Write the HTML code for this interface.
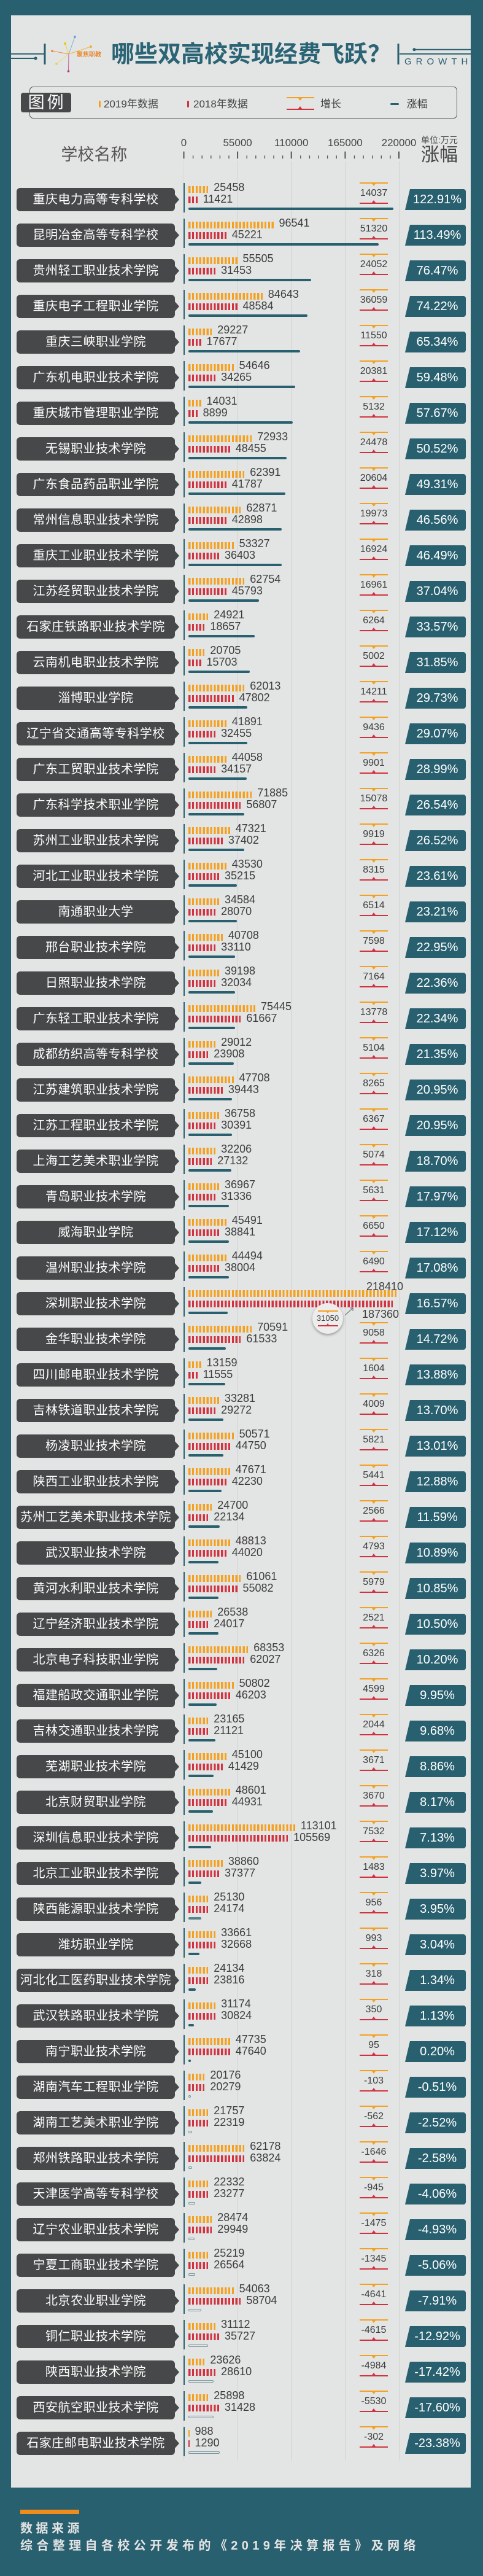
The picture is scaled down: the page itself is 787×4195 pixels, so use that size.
<!DOCTYPE html>
<html lang="zh">
<head>
<meta charset="utf-8">
<style>
*{margin:0;padding:0;box-sizing:border-box}
html,body{width:787px;height:4195px;overflow:hidden}
body{position:relative;background:#29606f;font-family:"Liberation Sans","Noto Sans CJK SC",sans-serif}
.panel{position:absolute;left:18px;top:25px;width:749px;height:4026px;background:#e3e4e4}
.abs{position:absolute;white-space:nowrap}
.grid{position:absolute;top:262px;width:1px;height:3745px;background:#d1d2d2}
.r{position:absolute;left:0;width:787px;height:40px}
.r::before{content:"";position:absolute;left:298.5px;top:-8px;width:2.2px;height:48px;background:#29606f}
.n{position:absolute;left:27px;top:0;width:258px;height:38px;background:#474849;border-radius:6px;color:#fff;font-size:20px;line-height:38px;text-align:center;letter-spacing:.5px;white-space:nowrap;font-family:"Liberation Sans","Noto Sans CJK SC",sans-serif}
.n::after{content:"";position:absolute;left:257px;top:10px;border-left:8px solid #474849;border-top:9px solid transparent;border-bottom:9px solid transparent}
.o,.d{position:absolute;left:306.5px;height:18px;display:flex;align-items:center;font-size:18px;line-height:18px;color:#3d3d3d;white-space:nowrap;font-family:"Liberation Sans",sans-serif}
.o{top:-10px}
.d{top:9px}
.o b,.d b{display:block;position:relative;height:10.6px;width:calc(var(--n) * 5.9px - 2.6px);margin-right:9px;flex:none}
.o b{top:3.6px;background:repeating-linear-gradient(90deg,#f5a01e 0,#f5a01e 3.3px,transparent 3.3px,transparent 5.9px)}
.d b{top:1.6px;background:repeating-linear-gradient(90deg,#d2323f 0,#d2323f 3.3px,transparent 3.3px,transparent 5.9px)}
.t{position:absolute;left:306.5px;top:32px;height:4px;border-radius:2px;background:#29606f;display:block}
.t.u{background:transparent;border:1px solid #7d979d}
.g{position:absolute;left:586px;top:-9px;width:46px;height:35px;border-top:2px solid #f5a01e;border-bottom:2px solid #d2323f;text-align:center;font-size:16px;line-height:31px;color:#3d3d3d;font-family:"Liberation Sans",sans-serif}
.g::before{content:"";position:absolute;left:19.5px;top:0;border-top:4px solid #f5a01e;border-left:3.5px solid transparent;border-right:3.5px solid transparent}
.g::after{content:"";position:absolute;left:19.5px;bottom:0;border-bottom:4px solid #d2323f;border-left:3.5px solid transparent;border-right:3.5px solid transparent}
.p{position:absolute;left:660px;top:2px;width:99px;height:34px;background:#29606f;clip-path:polygon(8px 0,100% 0,100% 100%,0 100%);border-radius:0 4px 4px 0;color:#fff;font-size:20px;line-height:34px;text-align:center;padding-left:6px;font-family:"Liberation Sans",sans-serif}
.lab{position:absolute;font-size:18px;line-height:18px;color:#3d3d3d;font-family:"Liberation Sans",sans-serif;white-space:nowrap}
.tk{position:absolute;top:224px;width:80px;text-align:center;font-size:17px;line-height:18px;color:#444;font-family:"Liberation Sans",sans-serif}
</style>
</head>
<body>
<div class="panel"></div>

<svg class="abs" style="left:0;top:0" width="787" height="270" xmlns="http://www.w3.org/2000/svg">
  <g fill="#29606f" stroke="#29606f">
    <line x1="18" y1="87.7" x2="72" y2="87.7" stroke-width="2"/>
    <line x1="18" y1="95" x2="57" y2="95" stroke-width="2"/>
    <circle cx="58" cy="95" r="2.6" stroke="none"/>
    <rect x="71.5" y="71" width="3" height="34" stroke="none"/>
    <rect x="647.5" y="71" width="3" height="34" stroke="none"/>
    <line x1="675" y1="80.7" x2="767" y2="80.7" stroke-width="2"/>
    <circle cx="675" cy="80.7" r="2.6" stroke="none"/>
    <line x1="651" y1="87.7" x2="767" y2="87.7" stroke-width="2"/>
  </g>
  <g stroke-width="1">
    <line x1="112" y1="88" x2="122" y2="60" stroke="#7fb0d8"/>
    <line x1="112" y1="88" x2="106" y2="71" stroke="#e8d24a"/>
    <line x1="112" y1="88" x2="148" y2="76" stroke="#f0b53a"/>
    <line x1="112" y1="88" x2="85" y2="83" stroke="#f0903a"/>
    <line x1="112" y1="88" x2="92" y2="104" stroke="#eadb70"/>
    <line x1="112" y1="88" x2="111.5" y2="116" stroke="#c05a90"/>
  </g>
  <circle cx="122" cy="60" r="1.8" fill="#5a9ad0"/>
  <circle cx="106" cy="71" r="2.2" fill="#e8cc20"/>
  <circle cx="148" cy="76" r="2" fill="#f0b030"/>
  <circle cx="85" cy="83" r="1.8" fill="#f08030"/>
  <circle cx="92" cy="104" r="1.8" fill="#e8d050"/>
  <circle cx="111.5" cy="116" r="1.8" fill="#b03a78"/>
  <text x="125" y="92" font-size="10" font-weight="bold" fill="#e88a2e" font-family="Liberation Sans, Noto Sans CJK SC, sans-serif">聚焦职教</text>
  <text x="659" y="105" font-size="15" letter-spacing="7" fill="#29606f" font-family="Liberation Sans, sans-serif">GROWTH</text>
  <g fill="#555">
    <rect x="298.5" y="246.7" width="2" height="11.6"/>
    <rect x="386.1" y="246.7" width="2" height="11.6"/>
    <rect x="473.7" y="246.7" width="2" height="11.6"/>
    <rect x="561.4" y="246.7" width="2" height="11.6"/>
    <rect x="649" y="246.7" width="2" height="11.6"/>
    <rect x="313.9" y="253.3" width="1.4" height="5"/><rect x="328.5" y="253.3" width="1.4" height="5"/><rect x="343.1" y="253.3" width="1.4" height="5"/><rect x="357.7" y="253.3" width="1.4" height="5"/><rect x="372.3" y="253.3" width="1.4" height="5"/>
    <rect x="401.5" y="253.3" width="1.4" height="5"/><rect x="416.1" y="253.3" width="1.4" height="5"/><rect x="430.7" y="253.3" width="1.4" height="5"/><rect x="445.3" y="253.3" width="1.4" height="5"/><rect x="459.9" y="253.3" width="1.4" height="5"/>
    <rect x="489.1" y="253.3" width="1.4" height="5"/><rect x="503.7" y="253.3" width="1.4" height="5"/><rect x="518.3" y="253.3" width="1.4" height="5"/><rect x="532.9" y="253.3" width="1.4" height="5"/><rect x="547.5" y="253.3" width="1.4" height="5"/>
    <rect x="576.8" y="253.3" width="1.4" height="5"/><rect x="591.4" y="253.3" width="1.4" height="5"/><rect x="606" y="253.3" width="1.4" height="5"/><rect x="620.6" y="253.3" width="1.4" height="5"/><rect x="635.2" y="253.3" width="1.4" height="5"/>
  </g>
</svg>

<div class="abs" style="left:181px;top:70px;font-size:38px;line-height:38px;font-weight:bold;color:#2b6474;font-family:'Liberation Sans','Noto Sans CJK SC',sans-serif">哪些双高校实现经费飞跃？</div>

<!-- legend -->
<div class="abs" style="left:47.7px;top:140.7px;width:697px;height:52px;border:1.5px solid #58595a;border-radius:6px"></div>
<div class="abs" style="left:33.6px;top:151px;width:82px;height:32px;background:#474849;border-radius:4px;color:#fff;font-size:27px;line-height:32px;text-align:center;letter-spacing:4px;padding-left:4px">图例</div>
<div class="abs" style="left:160.5px;top:163.5px;width:3px;height:11px;background:#f5a01e;border-radius:1.5px"></div>
<div class="abs" style="left:169px;top:160.8px;font-size:17px;line-height:17px;color:#444">2019年数据</div>
<div class="abs" style="left:305px;top:163.5px;width:3px;height:11px;background:#d2323f;border-radius:1.5px"></div>
<div class="abs" style="left:315px;top:160.8px;font-size:17px;line-height:17px;color:#444">2018年数据</div>
<div class="abs" style="left:467px;top:158px;width:45px;height:2px;background:#f5a01e"></div>
<div class="abs" style="left:486px;top:160px;border-top:4px solid #f5a01e;border-left:3.5px solid transparent;border-right:3.5px solid transparent"></div>
<div class="abs" style="left:467px;top:177.3px;width:45px;height:2px;background:#d2323f"></div>
<div class="abs" style="left:486px;top:173.3px;border-bottom:4px solid #d2323f;border-left:3.5px solid transparent;border-right:3.5px solid transparent"></div>
<div class="abs" style="left:522px;top:160.8px;font-size:17px;line-height:17px;color:#444">增长</div>
<div class="abs" style="left:636px;top:167.5px;width:14px;height:3px;background:#29606f;border-radius:1.5px"></div>
<div class="abs" style="left:662.7px;top:160.8px;font-size:17px;line-height:17px;color:#444">涨幅</div>

<!-- axis header -->
<div class="abs" style="left:99.4px;top:239px;font-size:27px;line-height:27px;color:#555">学校名称</div>
<div class="tk" style="left:259.5px">0</div>
<div class="tk" style="left:347.1px">55000</div>
<div class="tk" style="left:434.7px">110000</div>
<div class="tk" style="left:522.4px">165000</div>
<div class="tk" style="left:610px">220000</div>
<div class="abs" style="left:686px;top:221px;font-size:14px;line-height:14px;color:#444">单位:万元</div>
<div class="abs" style="left:686px;top:238.3px;font-size:30px;line-height:30px;color:#444">涨幅</div>

<div class="grid" style="left:299px;background:#d7d8d8"></div>
<div class="grid" style="left:386.6px"></div>
<div class="grid" style="left:474.2px"></div>
<div class="grid" style="left:561.9px"></div>
<div class="grid" style="left:649.5px"></div>

<!-- rows -->
<div class="r" style="top:306px"><div class="n">重庆电力高等专科学校</div><div class="o"><b style="--n:6"></b>25458</div><div class="d"><b style="--n:3"></b>11421</div><i class="t" style="width:334px"></i><div class="g">14037</div><div class="p">122.91%</div></div>
<div class="r" style="top:364px"><div class="n">昆明冶金高等专科学校</div><div class="o"><b style="--n:24"></b>96541</div><div class="d"><b style="--n:11"></b>45221</div><i class="t" style="width:310px"></i><div class="g">51320</div><div class="p">113.49%</div></div>
<div class="r" style="top:422px"><div class="n">贵州轻工职业技术学院</div><div class="o"><b style="--n:14"></b>55505</div><div class="d"><b style="--n:8"></b>31453</div><i class="t" style="width:200.5px"></i><div class="g">24052</div><div class="p">76.47%</div></div>
<div class="r" style="top:480px"><div class="n">重庆电子工程职业学院</div><div class="o"><b style="--n:21"></b>84643</div><div class="d"><b style="--n:14"></b>48584</div><i class="t" style="width:194px"></i><div class="g">36059</div><div class="p">74.22%</div></div>
<div class="r" style="top:538px"><div class="n">重庆三峡职业学院</div><div class="o"><b style="--n:7"></b>29227</div><div class="d"><b style="--n:4"></b>17677</div><i class="t" style="width:182px"></i><div class="g">11550</div><div class="p">65.34%</div></div>
<div class="r" style="top:596px"><div class="n">广东机电职业技术学院</div><div class="o"><b style="--n:13"></b>54646</div><div class="d"><b style="--n:8"></b>34265</div><i class="t" style="width:174.5px"></i><div class="g">20381</div><div class="p">59.48%</div></div>
<div class="r" style="top:654px"><div class="n">重庆城市管理职业学院</div><div class="o"><b style="--n:4"></b>14031</div><div class="d"><b style="--n:3"></b>8899</div><i class="t" style="width:170.5px"></i><div class="g">5132</div><div class="p">57.67%</div></div>
<div class="r" style="top:712px"><div class="n">无锡职业技术学院</div><div class="o"><b style="--n:18"></b>72933</div><div class="d"><b style="--n:12"></b>48455</div><i class="t" style="width:160.5px"></i><div class="g">24478</div><div class="p">50.52%</div></div>
<div class="r" style="top:770px"><div class="n">广东食品药品职业学院</div><div class="o"><b style="--n:16"></b>62391</div><div class="d"><b style="--n:11"></b>41787</div><i class="t" style="width:158px"></i><div class="g">20604</div><div class="p">49.31%</div></div>
<div class="r" style="top:828px"><div class="n">常州信息职业技术学院</div><div class="o"><b style="--n:15"></b>62871</div><div class="d"><b style="--n:11"></b>42898</div><i class="t" style="width:152px"></i><div class="g">19973</div><div class="p">46.56%</div></div>
<div class="r" style="top:886px"><div class="n">重庆工业职业技术学院</div><div class="o"><b style="--n:13"></b>53327</div><div class="d"><b style="--n:9"></b>36403</div><i class="t" style="width:152px"></i><div class="g">16924</div><div class="p">46.49%</div></div>
<div class="r" style="top:944px"><div class="n">江苏经贸职业技术学院</div><div class="o"><b style="--n:16"></b>62754</div><div class="d"><b style="--n:11"></b>45793</div><i class="t" style="width:115px"></i><div class="g">16961</div><div class="p">37.04%</div></div>
<div class="r" style="top:1002px"><div class="n">石家庄铁路职业技术学院</div><div class="o"><b style="--n:6"></b>24921</div><div class="d"><b style="--n:5"></b>18657</div><i class="t" style="width:108px"></i><div class="g">6264</div><div class="p">33.57%</div></div>
<div class="r" style="top:1060px"><div class="n">云南机电职业技术学院</div><div class="o"><b style="--n:5"></b>20705</div><div class="d"><b style="--n:4"></b>15703</div><i class="t" style="width:100px"></i><div class="g">5002</div><div class="p">31.85%</div></div>
<div class="r" style="top:1118px"><div class="n">淄博职业学院</div><div class="o"><b style="--n:16"></b>62013</div><div class="d"><b style="--n:13"></b>47802</div><i class="t" style="width:96.5px"></i><div class="g">14211</div><div class="p">29.73%</div></div>
<div class="r" style="top:1176px"><div class="n">辽宁省交通高等专科学校</div><div class="o"><b style="--n:11"></b>41891</div><div class="d"><b style="--n:8"></b>32455</div><i class="t" style="width:96.5px"></i><div class="g">9436</div><div class="p">29.07%</div></div>
<div class="r" style="top:1234px"><div class="n">广东工贸职业技术学院</div><div class="o"><b style="--n:11"></b>44058</div><div class="d"><b style="--n:8"></b>34157</div><i class="t" style="width:95px"></i><div class="g">9901</div><div class="p">28.99%</div></div>
<div class="r" style="top:1292px"><div class="n">广东科学技术职业学院</div><div class="o"><b style="--n:18"></b>71885</div><div class="d"><b style="--n:15"></b>56807</div><i class="t" style="width:91px"></i><div class="g">15078</div><div class="p">26.54%</div></div>
<div class="r" style="top:1350px"><div class="n">苏州工业职业技术学院</div><div class="o"><b style="--n:12"></b>47321</div><div class="d"><b style="--n:10"></b>37402</div><i class="t" style="width:91px"></i><div class="g">9919</div><div class="p">26.52%</div></div>
<div class="r" style="top:1408px"><div class="n">河北工业职业技术学院</div><div class="o"><b style="--n:11"></b>43530</div><div class="d"><b style="--n:9"></b>35215</div><i class="t" style="width:79px"></i><div class="g">8315</div><div class="p">23.61%</div></div>
<div class="r" style="top:1466px"><div class="n">南通职业大学</div><div class="o"><b style="--n:9"></b>34584</div><div class="d"><b style="--n:8"></b>28070</div><i class="t" style="width:79px"></i><div class="g">6514</div><div class="p">23.21%</div></div>
<div class="r" style="top:1524px"><div class="n">邢台职业技术学院</div><div class="o"><b style="--n:10"></b>40708</div><div class="d"><b style="--n:8"></b>33110</div><i class="t" style="width:76px"></i><div class="g">7598</div><div class="p">22.95%</div></div>
<div class="r" style="top:1582px"><div class="n">日照职业技术学院</div><div class="o"><b style="--n:9"></b>39198</div><div class="d"><b style="--n:8"></b>32034</div><i class="t" style="width:76px"></i><div class="g">7164</div><div class="p">22.36%</div></div>
<div class="r" style="top:1640px"><div class="n">广东轻工职业技术学院</div><div class="o"><b style="--n:19"></b>75445</div><div class="d"><b style="--n:15"></b>61667</div><i class="t" style="width:76px"></i><div class="g">13778</div><div class="p">22.34%</div></div>
<div class="r" style="top:1698px"><div class="n">成都纺织高等专科学校</div><div class="o"><b style="--n:8"></b>29012</div><div class="d"><b style="--n:6"></b>23908</div><i class="t" style="width:74px"></i><div class="g">5104</div><div class="p">21.35%</div></div>
<div class="r" style="top:1756px"><div class="n">江苏建筑职业技术学院</div><div class="o"><b style="--n:13"></b>47708</div><div class="d"><b style="--n:10"></b>39443</div><i class="t" style="width:71.5px"></i><div class="g">8265</div><div class="p">20.95%</div></div>
<div class="r" style="top:1814px"><div class="n">江苏工程职业技术学院</div><div class="o"><b style="--n:9"></b>36758</div><div class="d"><b style="--n:8"></b>30391</div><i class="t" style="width:71.5px"></i><div class="g">6367</div><div class="p">20.95%</div></div>
<div class="r" style="top:1872px"><div class="n">上海工艺美术职业学院</div><div class="o"><b style="--n:8"></b>32206</div><div class="d"><b style="--n:7"></b>27132</div><i class="t" style="width:70px"></i><div class="g">5074</div><div class="p">18.70%</div></div>
<div class="r" style="top:1930px"><div class="n">青岛职业技术学院</div><div class="o"><b style="--n:9"></b>36967</div><div class="d"><b style="--n:8"></b>31336</div><i class="t" style="width:66px"></i><div class="g">5631</div><div class="p">17.97%</div></div>
<div class="r" style="top:1988px"><div class="n">威海职业学院</div><div class="o"><b style="--n:11"></b>45491</div><div class="d"><b style="--n:9"></b>38841</div><i class="t" style="width:66px"></i><div class="g">6650</div><div class="p">17.12%</div></div>
<div class="r" style="top:2046px"><div class="n">温州职业技术学院</div><div class="o"><b style="--n:11"></b>44494</div><div class="d"><b style="--n:9"></b>38004</div><i class="t" style="width:66px"></i><div class="g">6490</div><div class="p">17.08%</div></div>
<div class="r" style="top:2104px"><div class="n">深圳职业技术学院</div><div class="o"><b style="--n:58"></b></div><div class="d"><b style="--n:57"></b></div>
  <span class="lab" style="left:597px;top:-18px">218410</span>
  <span class="lab" style="left:590px;top:27px">187360</span>
  <i class="t" style="width:64px"></i>
  <div class="p">16.57%</div>
  <div style="position:absolute;left:509px;top:18px;width:50px;height:50px;border-radius:50%;background:#ededed;box-shadow:0 2px 4px rgba(0,0,0,.35);z-index:3">
    <div style="position:absolute;left:9px;top:12px;width:33px;height:2px;background:#f5a01e"></div>
    <div style="position:absolute;left:23px;top:14px;border-top:3px solid #f5a01e;border-left:2.5px solid transparent;border-right:2.5px solid transparent"></div>
    <div style="position:absolute;left:0;top:18px;width:50px;text-align:center;font-size:13px;line-height:14px;color:#3d3d3d;font-family:'Liberation Sans',sans-serif">31050</div>
    <div style="position:absolute;left:23px;top:33px;border-bottom:3px solid #d2323f;border-left:2.5px solid transparent;border-right:2.5px solid transparent"></div>
    <div style="position:absolute;left:9px;top:36px;width:33px;height:2px;background:#d2323f"></div>
  </div>
  <svg style="position:absolute;left:558px;top:22px" width="22" height="20"><line x1="4" y1="16" x2="17" y2="4" stroke="#666" stroke-width="1"/><polyline points="12,4 17,4 17,9" fill="none" stroke="#666" stroke-width="1"/></svg>
</div>
<div class="r" style="top:2162px"><div class="n">金华职业技术学院</div><div class="o"><b style="--n:18"></b>70591</div><div class="d"><b style="--n:15"></b>61533</div><i class="t" style="width:61.5px"></i><div class="g">9058</div><div class="p">14.72%</div></div>
<div class="r" style="top:2220px"><div class="n">四川邮电职业技术学院</div><div class="o"><b style="--n:4"></b>13159</div><div class="d"><b style="--n:3"></b>11555</div><i class="t" style="width:60px"></i><div class="g">1604</div><div class="p">13.88%</div></div>
<div class="r" style="top:2278px"><div class="n">吉林铁道职业技术学院</div><div class="o"><b style="--n:9"></b>33281</div><div class="d"><b style="--n:8"></b>29272</div><i class="t" style="width:57.5px"></i><div class="g">4009</div><div class="p">13.70%</div></div>
<div class="r" style="top:2336px"><div class="n">杨凌职业技术学院</div><div class="o"><b style="--n:13"></b>50571</div><div class="d"><b style="--n:12"></b>44750</div><i class="t" style="width:57.5px"></i><div class="g">5821</div><div class="p">13.01%</div></div>
<div class="r" style="top:2394px"><div class="n">陕西工业职业技术学院</div><div class="o"><b style="--n:12"></b>47671</div><div class="d"><b style="--n:11"></b>42230</div><i class="t" style="width:54px"></i><div class="g">5441</div><div class="p">12.88%</div></div>
<div class="r" style="top:2452px"><div class="n">苏州工艺美术职业技术学院</div><div class="o"><b style="--n:7"></b>24700</div><div class="d"><b style="--n:6"></b>22134</div><i class="t" style="width:51.5px"></i><div class="g">2566</div><div class="p">11.59%</div></div>
<div class="r" style="top:2510px"><div class="n">武汉职业技术学院</div><div class="o"><b style="--n:12"></b>48813</div><div class="d"><b style="--n:11"></b>44020</div><i class="t" style="width:49px"></i><div class="g">4793</div><div class="p">10.89%</div></div>
<div class="r" style="top:2568px"><div class="n">黄河水利职业技术学院</div><div class="o"><b style="--n:15"></b>61061</div><div class="d"><b style="--n:14"></b>55082</div><i class="t" style="width:49px"></i><div class="g">5979</div><div class="p">10.85%</div></div>
<div class="r" style="top:2626px"><div class="n">辽宁经济职业技术学院</div><div class="o"><b style="--n:7"></b>26538</div><div class="d"><b style="--n:6"></b>24017</div><i class="t" style="width:49px"></i><div class="g">2521</div><div class="p">10.50%</div></div>
<div class="r" style="top:2684px"><div class="n">北京电子科技职业学院</div><div class="o"><b style="--n:17"></b>68353</div><div class="d"><b style="--n:16"></b>62027</div><i class="t" style="width:47.5px"></i><div class="g">6326</div><div class="p">10.20%</div></div>
<div class="r" style="top:2742px"><div class="n">福建船政交通职业学院</div><div class="o"><b style="--n:13"></b>50802</div><div class="d"><b style="--n:12"></b>46203</div><i class="t" style="width:46px"></i><div class="g">4599</div><div class="p">9.95%</div></div>
<div class="r" style="top:2800px"><div class="n">吉林交通职业技术学院</div><div class="o"><b style="--n:6"></b>23165</div><div class="d"><b style="--n:6"></b>21121</div><i class="t" style="width:44px"></i><div class="g">2044</div><div class="p">9.68%</div></div>
<div class="r" style="top:2858px"><div class="n">芜湖职业技术学院</div><div class="o"><b style="--n:11"></b>45100</div><div class="d"><b style="--n:10"></b>41429</div><i class="t" style="width:41.5px"></i><div class="g">3671</div><div class="p">8.86%</div></div>
<div class="r" style="top:2916px"><div class="n">北京财贸职业学院</div><div class="o"><b style="--n:12"></b>48601</div><div class="d"><b style="--n:11"></b>44931</div><i class="t" style="width:40px"></i><div class="g">3670</div><div class="p">8.17%</div></div>
<div class="r" style="top:2974px"><div class="n">深圳信息职业技术学院</div><div class="o"><b style="--n:30"></b>113101</div><div class="d"><b style="--n:28"></b>105569</div><i class="t" style="width:37.5px"></i><div class="g">7532</div><div class="p">7.13%</div></div>
<div class="r" style="top:3032px"><div class="n">北京工业职业技术学院</div><div class="o"><b style="--n:10"></b>38860</div><div class="d"><b style="--n:9"></b>37377</div><i class="t" style="width:21px"></i><div class="g">1483</div><div class="p">3.97%</div></div>
<div class="r" style="top:3090px"><div class="n">陕西能源职业技术学院</div><div class="o"><b style="--n:6"></b>25130</div><div class="d"><b style="--n:6"></b>24174</div><i class="t" style="width:21px;opacity:.75"></i><div class="g">956</div><div class="p">3.95%</div></div>
<div class="r" style="top:3148px"><div class="n">潍坊职业学院</div><div class="o"><b style="--n:8"></b>33661</div><div class="d"><b style="--n:8"></b>32668</div><i class="t" style="width:18px"></i><div class="g">993</div><div class="p">3.04%</div></div>
<div class="r" style="top:3206px"><div class="n">河北化工医药职业技术学院</div><div class="o"><b style="--n:6"></b>24134</div><div class="d"><b style="--n:6"></b>23816</div><i class="t" style="width:12px"></i><div class="g">318</div><div class="p">1.34%</div></div>
<div class="r" style="top:3264px"><div class="n">武汉铁路职业技术学院</div><div class="o"><b style="--n:8"></b>31174</div><div class="d"><b style="--n:8"></b>30824</div><i class="t" style="width:9px"></i><div class="g">350</div><div class="p">1.13%</div></div>
<div class="r" style="top:3322px"><div class="n">南宁职业技术学院</div><div class="o"><b style="--n:12"></b>47735</div><div class="d"><b style="--n:12"></b>47640</div><i class="t" style="width:4px"></i><div class="g">95</div><div class="p">0.20%</div></div>
<div class="r" style="top:3380px"><div class="n">湖南汽车工程职业学院</div><div class="o"><b style="--n:5"></b>20176</div><div class="d"><b style="--n:5"></b>20279</div><i class="t u" style="width:4px"></i><div class="g">-103</div><div class="p">-0.51%</div></div>
<div class="r" style="top:3438px"><div class="n">湖南工艺美术职业学院</div><div class="o"><b style="--n:6"></b>21757</div><div class="d"><b style="--n:6"></b>22319</div><i class="t u" style="width:6px"></i><div class="g">-562</div><div class="p">-2.52%</div></div>
<div class="r" style="top:3496px"><div class="n">郑州铁路职业技术学院</div><div class="o"><b style="--n:16"></b>62178</div><div class="d"><b style="--n:16"></b>63824</div><i class="t u" style="width:6px"></i><div class="g">-1646</div><div class="p">-2.58%</div></div>
<div class="r" style="top:3554px"><div class="n">天津医学高等专科学校</div><div class="o"><b style="--n:6"></b>22332</div><div class="d"><b style="--n:6"></b>23277</div><i class="t u" style="width:11px"></i><div class="g">-945</div><div class="p">-4.06%</div></div>
<div class="r" style="top:3612px"><div class="n">辽宁农业职业技术学院</div><div class="o"><b style="--n:7"></b>28474</div><div class="d"><b style="--n:7"></b>29949</div><i class="t u" style="width:10.5px"></i><div class="g">-1475</div><div class="p">-4.93%</div></div>
<div class="r" style="top:3670px"><div class="n">宁夏工商职业技术学院</div><div class="o"><b style="--n:6"></b>25219</div><div class="d"><b style="--n:6"></b>26564</div><i class="t u" style="width:11px"></i><div class="g">-1345</div><div class="p">-5.06%</div></div>
<div class="r" style="top:3728px"><div class="n">北京农业职业学院</div><div class="o"><b style="--n:13"></b>54063</div><div class="d"><b style="--n:15"></b>58704</div><i class="t u" style="width:21px"></i><div class="g">-4641</div><div class="p">-7.91%</div></div>
<div class="r" style="top:3786px"><div class="n">铜仁职业技术学院</div><div class="o"><b style="--n:8"></b>31112</div><div class="d"><b style="--n:9"></b>35727</div><i class="t u" style="width:32.5px"></i><div class="g">-4615</div><div class="p">-12.92%</div></div>
<div class="r" style="top:3844px"><div class="n">陕西职业技术学院</div><div class="o"><b style="--n:5"></b>23626</div><div class="d"><b style="--n:8"></b>28610</div><i class="t u" style="width:41.5px"></i><div class="g">-4984</div><div class="p">-17.42%</div></div>
<div class="r" style="top:3902px"><div class="n">西安航空职业技术学院</div><div class="o"><b style="--n:6"></b>25898</div><div class="d"><b style="--n:9"></b>31428</div><i class="t u" style="width:41.5px"></i><div class="g">-5530</div><div class="p">-17.60%</div></div>
<div class="r" style="top:3960px"><div class="n">石家庄邮电职业技术学院</div><div class="o"><b style="--n:1;width:2px"></b>988</div><div class="d"><b style="--n:1;width:2px"></b>1290</div><i class="t u" style="width:51.5px"></i><div class="g">-302</div><div class="p">-23.38%</div></div>

<!-- footer -->
<div class="abs" style="left:33px;top:4087px;width:96px;height:7px;background:#f08c1a"></div>
<div class="abs" style="left:33px;top:4107.5px;font-size:20px;line-height:20px;font-weight:bold;letter-spacing:5.5px;color:#e4e4e4">数据来源</div>
<div class="abs" style="left:33px;top:4136px;font-size:20px;line-height:20px;font-weight:bold;letter-spacing:6.4px;color:#e4e4e4">综合整理自各校公开发布的《2019年决算报告》及网络</div>
</body>
</html>
